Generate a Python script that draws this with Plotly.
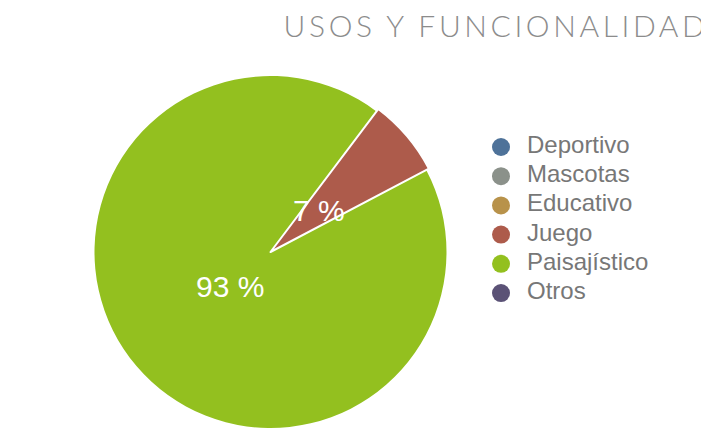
import math
import plotly.graph_objects as go

labels = ["Deportivo", "Mascotas", "Educativo", "Juego", "Paisajístico", "Otros"]
values = [0, 0, 0, 7, 93, 0]
colors = ["#4e7299", "#8b918a", "#b8924a", "#ad5b4b", "#93c01f", "#5b5276"]
title_text = "USOS Y FUNCIONALIDAD"

# page body has an 8px margin, so the figure is sized to fill the rest
W, H = 701, 423
cx, cy = 262.5, 179.0  # pie centre in px (y measured from bottom)
r_main = 176.0
r_big = 179.0
rotation = 37
label_frac = 0.33

def dom(r):
    return dict(x=[(cx - r) / W, (cx + r) / W], y=[(cy - r) / H, (cy + r) / H])

fig = go.Figure()

fig.add_trace(go.Pie(
    labels=labels, values=values, sort=False, direction="clockwise", rotation=rotation,
    marker=dict(colors=colors, line=dict(width=0)),
    textinfo="none", domain=dom(r_main), showlegend=False, hoverinfo="label+percent",
))

big_colors = [c if l == "Juego" else "rgba(0,0,0,0)" for c, l in zip(colors, labels)]
big_lw = [2 if l == "Juego" else 0 for l in labels]
fig.add_trace(go.Pie(
    labels=labels, values=values, sort=False, direction="clockwise", rotation=rotation,
    marker=dict(colors=big_colors, line=dict(width=big_lw, color="white")),
    textinfo="none", domain=dom(r_big), showlegend=False, hoverinfo="skip",
))

# slice percentage labels placed along each slice's bisector
total = sum(values)
cum = 0.0
for l, v in zip(labels, values):
    if v > 0:
        mid = math.radians(rotation + 360.0 * (cum + v / 2.0) / total)
        px = cx + label_frac * r_main * math.sin(mid)
        py = cy + label_frac * r_main * math.cos(mid)
        fig.add_annotation(
            x=px / W, y=py / H, xref="paper", yref="paper",
            text=f"{round(100 * v / total)} %", showarrow=False,
            xanchor="center", yanchor="middle", xshift=4, yshift=3.5,
            font=dict(size=30, color="white", family="Liberation Sans"),
        )
    cum += v

# legend drawn as circle markers + labels on a hidden category axis
fig.add_trace(go.Scatter(
    x=[0] * len(labels), y=labels, mode="markers",
    marker=dict(symbol="circle", size=18, color=colors),
    cliponaxis=False, showlegend=False, hoverinfo="skip",
))
fig.add_trace(go.Scatter(
    x=[1] * len(labels), y=labels, mode="text", text=labels,
    textposition="middle right",
    textfont=dict(family="Liberation Sans", size=24, color="#777777"),
    cliponaxis=False, showlegend=False, hoverinfo="skip",
))

fig.update_layout(
    width=W, height=H,
    margin=dict(l=0, r=0, t=0, b=0),
    paper_bgcolor="white", plot_bgcolor="rgba(0,0,0,0)",
    xaxis=dict(visible=False, range=[0, 1], domain=[493 / W, 519 / W], fixedrange=True),
    yaxis=dict(visible=False, type="category", categoryorder="array", categoryarray=labels,
               range=[len(labels) - 0.5, -0.5], domain=[0.2917, 0.7059], fixedrange=True),
    title=dict(text=f'<span style="letter-spacing:3.6px">{title_text}</span>',
               x=1 - 0.5 / W, xanchor="right", y=1 - 7.5 / H, yanchor="top",
               font=dict(family="Lato", size=30, color="#8c8c8c", weight=300)),
    showlegend=False,
)

fig.write_html("out.html")
